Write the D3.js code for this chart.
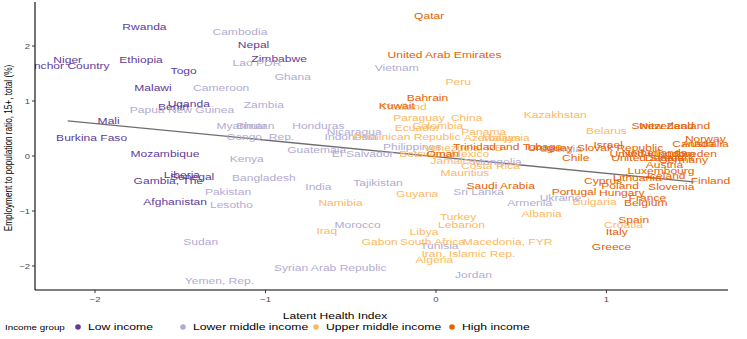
<!DOCTYPE html>
<html>
<head>
<meta charset="utf-8">
<script src="https://d3js.org/d3.v7.min.js"></script>
<style>
  body { margin: 0; background: #ffffff; }
  text { font-family: "Liberation Sans", Arial, Helvetica, sans-serif; }
</style>
</head>
<body>
<script>
// country labels, latent health index (x) and employment ratio (y, scaled), income group index
var countries = ["Rwanda","Niger","Anchor Country","Ethiopia","Togo","Malawi","Benin","Uganda","Mali","Burkina Faso",
  "Mozambique","Liberia","Gambia, The","Senegal","Afghanistan","Nepal","Zimbabwe",
  "Cambodia","Lao PDR","Ghana","Cameroon","Zambia","Papua New Guinea","Myanmar","Bhutan","Honduras","Congo, Rep.",
  "Nicaragua","Indonesia","Guatemala","El Salvador","Kenya","Bangladesh","Tajikistan","India","Pakistan","Lesotho",
  "Sudan","Yemen, Rep.","Syrian Arab Republic","Morocco","Vietnam","Philippines","Mongolia","Sri Lanka","Armenia",
  "Ukraine","Tunisia","Jordan","Georgia",
  "Peru","Thailand","Paraguay","China","Colombia","Ecuador","Dominican Republic","Panama","Azerbaijan","Malaysia",
  "Venezuela, RB","Botswana","Mexico","Jamaica","Costa Rica","Mauritius","Kazakhstan","Belarus","Namibia","Guyana",
  "Turkey","Lebanon","Libya","Gabon","South Africa","Iran, Islamic Rep.","Algeria","Macedonia, FYR","Albania",
  "Bulgaria","Croatia","Iraq",
  "Qatar","United Arab Emirates","Bahrain","Kuwait","Oman","Trinidad and Tobago","Saudi Arabia","Chile","Uruguay",
  "Israel","Slovak Republic","Switzerland","New Zealand","Norway","Canada","Australia","Netherlands","Sweden",
  "United Kingdom","United States","Denmark","Germany","Austria","Luxembourg","Iceland","Lithuania","Cyprus",
  "Finland","Poland","Slovenia","Portugal","Hungary","France","Belgium","Spain","Italy","Greece"];

var latent = [-1.71,-2.16,-2.16,-1.73,-1.48,-1.66,-1.54,-1.45,-1.92,-2.02,
  -1.59,-1.49,-1.57,-1.43,-1.53,-1.07,-0.92,
  -1.15,-1.05,-0.84,-1.26,-1.01,-1.49,-1.14,-1.06,-0.69,-1.03,
  -0.48,-0.50,-0.70,-0.43,-1.11,-1.01,-0.34,-0.69,-1.22,-1.20,
  -1.38,-1.27,-0.62,-0.46,-0.23,-0.14,0.36,0.25,0.55,
  0.73,0.02,0.22,0.73,
  0.13,-0.19,-0.10,0.18,0.01,-0.11,-0.17,0.28,0.33,0.41,
  0.16,-0.06,0.20,0.10,0.32,0.17,0.70,1.00,-0.56,-0.11,
  0.13,0.15,-0.07,-0.33,-0.02,0.19,-0.01,0.42,0.62,
  0.93,1.10,-0.64,
  -0.04,0.05,-0.05,-0.23,0.04,0.42,0.38,0.82,0.67,
  1.01,1.08,1.33,1.40,1.58,1.51,1.58,1.28,1.52,
  1.27,1.24,1.37,1.45,1.34,1.32,1.35,1.18,0.98,
  1.61,1.08,1.38,0.81,1.09,1.24,1.23,1.16,1.06,1.03];

var employment = [2.36,1.76,1.64,1.75,1.56,1.24,0.89,0.95,0.64,0.33,
  0.04,-0.33,-0.44,-0.38,-0.82,2.02,1.78,
  2.27,1.69,1.45,1.25,0.93,0.84,0.56,0.56,0.55,0.36,
  0.44,0.35,0.11,0.04,-0.05,-0.40,-0.49,-0.56,-0.64,-0.89,
  -1.56,-2.27,-2.02,-1.24,1.60,0.18,-0.11,-0.64,-0.84,
  -0.76,-1.62,-2.15,0.13,
  1.35,0.89,0.69,0.69,0.56,0.51,0.36,0.44,0.33,0.33,
  0.16,0.05,0.05,-0.09,-0.18,-0.31,0.76,0.47,-0.84,-0.69,
  -1.11,-1.25,-1.38,-1.56,-1.55,-1.78,-1.89,-1.55,-1.04,
  -0.82,-1.25,-1.36,
  2.55,1.85,1.07,0.91,0.04,0.18,-0.53,-0.02,0.15,
  0.20,0.15,0.56,0.55,0.31,0.22,0.22,0.07,0.05,
  0.05,-0.02,-0.02,-0.07,-0.16,-0.27,-0.35,-0.40,-0.45,
  -0.45,-0.53,-0.56,-0.64,-0.67,-0.76,-0.85,-1.15,-1.38,-1.64];

var incomeGroup = [0,0,0,0,0,0,0,0,0,0, 0,0,0,0,0,0,0,
  1,1,1,1,1,1,1,1,1,1, 1,1,1,1,1,1,1,1,1,1, 1,1,1,1,1,1,1,1,1, 1,1,1,1,
  2,2,2,2,2,2,2,2,2,2, 2,2,2,2,2,2,2,2,2,2, 2,2,2,2,2,2,2,2,2, 2,2,2,
  3,3,3,3,3,3,3,3,3, 3,3,3,3,3,3,3,3,3, 3,3,3,3,3,3,3,3,3, 3,3,3,3,3,3,3,3,3,3];

var groups = ["Low income","Lower middle income","Upper middle income","High income"];
var groupColors = ["#5e3c99","#b2abd2","#fdb863","#e66101"];

var xTicks = [-2, -1, 0, 1];
var yTicks = [-2, -1, 0, 1, 2];

// fitted line end points
var trendX = [-2.16, 1.51];
var trendY = [0.64, -0.47];

var width = 747, height = 339;
var stretch = 1.27; // text looks horizontally widened
var panel = {left: 35, right: 728, top: 2, bottom: 290};

var x = d3.scaleLinear().domain([-2.352, 1.713]).range([panel.left, panel.right]);
var y = d3.scaleLinear().domain([-2.436, 2.8]).range([panel.bottom, panel.top]);

var data = countries.map(function(c, i) {
  return {name: c, x: latent[i], y: employment[i], g: incomeGroup[i]};
});

var svg = d3.select("body").append("svg")
  .attr("width", width)
  .attr("height", height);

svg.append("defs").append("clipPath").attr("id", "panelClip")
  .append("rect")
  .attr("x", panel.left).attr("y", 0)
  .attr("width", width - panel.left).attr("height", panel.bottom);

// trend line
var plot = svg.append("g").attr("clip-path", "url(#panelClip)");
plot.append("line")
  .attr("x1", x(trendX[0])).attr("y1", y(trendY[0]))
  .attr("x2", x(trendX[1])).attr("y2", y(trendY[1]))
  .attr("stroke", "#6e6e6e")
  .attr("stroke-width", 1.3);

// country labels
plot.selectAll(".lab")
  .data(data)
  .enter()
  .append("text")
  .attr("class", "lab")
  .attr("transform", function(d) {
    return "translate(" + x(d.x) + "," + y(d.y) + ") scale(" + stretch + ",1)";
  })
  .attr("dy", "0.36em")
  .attr("text-anchor", "middle")
  .attr("font-size", 9.5)
  .attr("fill", function(d) { return groupColors[d.g]; })
  .text(function(d) { return d.name; });

// axes
svg.append("line")
  .attr("x1", panel.left).attr("x2", panel.left)
  .attr("y1", panel.top).attr("y2", panel.bottom)
  .attr("stroke", "#000").attr("stroke-width", 1.1);
svg.append("line")
  .attr("x1", panel.left).attr("x2", panel.right)
  .attr("y1", panel.bottom).attr("y2", panel.bottom)
  .attr("stroke", "#000").attr("stroke-width", 1.1);

var yt = svg.selectAll(".ytick").data(yTicks).enter().append("g")
  .attr("transform", function(d) { return "translate(0," + y(d) + ")"; });
yt.append("line").attr("x1", panel.left - 3).attr("x2", panel.left)
  .attr("stroke", "#333").attr("stroke-width", 1);
yt.append("text")
  .attr("transform", "translate(" + (panel.left - 5) + ",0) scale(" + stretch + ",1)")
  .attr("dy", "0.36em")
  .attr("text-anchor", "end")
  .attr("font-size", 7.5)
  .attr("fill", "#4d4d4d")
  .text(function(d) { return d3.format("")(d).replace("-", "\u2212"); });

var xt = svg.selectAll(".xtick").data(xTicks).enter().append("g")
  .attr("transform", function(d) { return "translate(" + x(d) + "," + panel.bottom + ")"; });
xt.append("line").attr("y1", 0).attr("y2", 3)
  .attr("stroke", "#333").attr("stroke-width", 1);
xt.append("text")
  .attr("transform", "translate(0,9) scale(" + stretch + ",1)")
  .attr("dy", "0.36em")
  .attr("text-anchor", "middle")
  .attr("font-size", 7.5)
  .attr("fill", "#4d4d4d")
  .text(function(d) { return d3.format("")(d).replace("-", "\u2212"); });

// axis titles
svg.append("text")
  .attr("transform", "translate(335,316) scale(" + stretch + ",1)")
  .attr("dy", "0.36em")
  .attr("text-anchor", "middle")
  .attr("font-size", 9.5)
  .attr("fill", "#000")
  .text("Latent Health Index");

svg.append("text")
  .attr("transform", "translate(8,148) rotate(-90) scale(1," + stretch + ")")
  .attr("dy", "0.36em")
  .attr("text-anchor", "middle")
  .attr("font-size", 8.2)
  .attr("fill", "#000")
  .text("Employment to population ratio, 15+, total (%)");

// legend
var legendY = 327;
var legendKeyX = [78, 183, 316, 452];
var legend = svg.append("g");
legend.append("text")
  .attr("transform", "translate(5," + legendY + ") scale(" + stretch + ",1)")
  .attr("dy", "0.36em")
  .attr("font-size", 7.7)
  .text("Income group");

groups.forEach(function(gname, i) {
  legend.append("circle")
    .attr("cx", legendKeyX[i]).attr("cy", legendY)
    .attr("r", 2.8)
    .attr("fill", groupColors[i]);
  legend.append("text")
    .attr("transform", "translate(" + (legendKeyX[i] + 10) + "," + legendY + ") scale(" + stretch + ",1)")
    .attr("dy", "0.36em")
    .attr("font-size", 9.6)
    .attr("fill", "#000")
    .text(gname);
});
</script>
</body>
</html>
